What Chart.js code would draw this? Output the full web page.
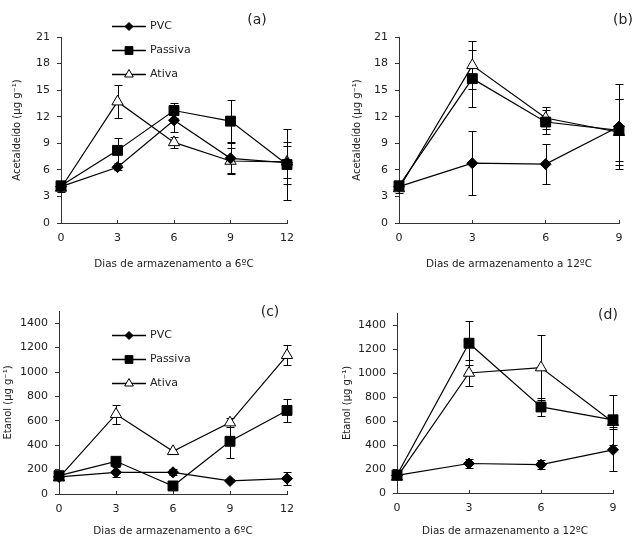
<!DOCTYPE html>
<html>
<head>
<meta charset="utf-8">
<script src="https://cdn.jsdelivr.net/npm/chart.js@4"></script>
<style>
  body { margin: 0; background: #fff; }
  #wrap { position: relative; width: 635px; height: 544px; }
  canvas { position: absolute; }
</style>
</head>
<body>
<div id="wrap">
  <canvas id="ca" width="318" height="272" style="left:0;top:0"></canvas>
  <canvas id="cb" width="317" height="272" style="left:318px;top:0"></canvas>
  <canvas id="cc" width="318" height="272" style="left:0;top:272px"></canvas>
  <canvas id="cd" width="317" height="272" style="left:318px;top:272px"></canvas>
</div>
<script>
// days of storage
const dias6 = [0, 3, 6, 9, 12];
const dias12 = [0, 3, 6, 9];
const yTicksAcet = [0, 3, 6, 9, 12, 15, 18, 21];
const yTicksEtanol = [0, 200, 400, 600, 800, 1000, 1200, 1400];

// (a) acetaldeido, 6 C
const acet6Pvc = [4.1, 6.3, 11.6, 7.3, 6.8];
const acet6PvcErr = [0.4, 0.3, 1.3, 1.7, 2.4];
const acet6Passiva = [4.2, 8.2, 12.7, 11.5, 6.6];
const acet6PassivaErr = [0.5, 1.4, 0.8, 2.4, 4.0];
const acet6Ativa = [3.95, 13.7, 9.1, 7.0, 6.9];
const acet6AtivaErr = [0.5, 1.9, 0.6, 1.5, 1.8];

// (b) acetaldeido, 12 C
const acet12Pvc = [4.1, 6.75, 6.65, 10.9];
const acet12PvcErr = [0.4, 3.6, 2.3, 4.8];
const acet12Passiva = [4.2, 16.3, 11.4, 10.45];
const acet12PassivaErr = [0.5, 3.2, 1.4, 3.5];
const acet12Ativa = [3.9, 17.8, 11.85, 10.25];
const acet12AtivaErr = [0.5, 2.7, 1.2, 3.7];

// (c) etanol, 6 C
const etanol6Pvc = [140, 178, 178, 107, 126];
const etanol6PvcErr = [20, 42, 25, 12, 52];
const etanol6Passiva = [150, 268, 66, 432, 685];
const etanol6PassivaErr = [20, 36, 20, 137, 97];
const etanol6Ativa = [134, 654, 350, 585, 1137];
const etanol6AtivaErr = [15, 78, 22, 35, 82];

// (d) etanol, 12 C
const etanol12Pvc = [147, 246, 236, 360];
const etanol12PvcErr = [20, 40, 40, 175];
const etanol12Passiva = [150, 1248, 717, 610];
const etanol12PassivaErr = [25, 185, 75, 210];
const etanol12Ativa = [133, 1000, 1045, 590];
const etanol12AtivaErr = [20, 108, 270, 40];

const txt = '#222';
const axisCol = '#333';
const fam = '"DejaVu Sans", Verdana, sans-serif';

const errorBars = {
  id: 'errorBars',
  beforeDatasetsDraw(chart) {
    const { ctx, scales: { x, y } } = chart;
    ctx.save();
    ctx.strokeStyle = '#000';
    ctx.lineWidth = 1;
    chart.data.datasets.forEach(ds => {
      ds.data.forEach((p, i) => {
        const e = ds.err[i];
        if (!e) return;
        const px = Math.round(x.getPixelForValue(p.x)) + 0.5;
        const y1 = Math.round(y.getPixelForValue(p.y + e)) + 0.5;
        const y2 = Math.round(y.getPixelForValue(p.y - e)) + 0.5;
        ctx.beginPath();
        ctx.moveTo(px, y1); ctx.lineTo(px, y2);
        ctx.moveTo(px - 4, y1); ctx.lineTo(px + 4, y1);
        ctx.moveTo(px - 4, y2); ctx.lineTo(px + 4, y2);
        ctx.stroke();
      });
    });
    ctx.restore();
  }
};

// panel letter + the small legend inside (a) and (c)
const legendRadius = { rectRot: 4, rect: 5.5, triangle: 5 };
const extras = {
  id: 'extras',
  afterDraw(chart, args, opts) {
    const ctx = chart.ctx;
    ctx.save();
    ctx.fillStyle = txt;
    ctx.font = '14px ' + fam;
    ctx.textAlign = 'center';
    ctx.textBaseline = 'middle';
    ctx.fillText(opts.letter, opts.lx, opts.ly);
    if (opts.legendY) {
      chart.data.datasets.forEach((ds, i) => {
        const yy = opts.legendY + i * 24 + 0.5;
        ctx.strokeStyle = '#000';
        ctx.lineWidth = 1.3;
        ctx.beginPath();
        ctx.moveTo(112, yy); ctx.lineTo(146, yy);
        ctx.stroke();
        ctx.lineWidth = 1;
        ctx.fillStyle = ds.pointBackgroundColor;
        Chart.helpers.drawPoint(ctx, {
          pointStyle: ds.pointStyle, radius: legendRadius[ds.pointStyle], rotation: 0, borderWidth: 1
        }, 129, yy);
        ctx.fillStyle = txt;
        ctx.font = '11px ' + fam;
        ctx.textAlign = 'left';
        ctx.fillText(ds.label, 150, yy);
      });
    }
    ctx.restore();
  }
};

function series(label, xs, ys, err, style, radius, fill) {
  return {
    label: label,
    data: xs.map((d, i) => ({ x: d, y: ys[i] })),
    err: err,
    showLine: true,
    borderColor: '#000',
    borderWidth: 1.2,
    pointStyle: style,
    pointRadius: radius,
    pointBackgroundColor: fill,
    pointBorderColor: '#000',
    pointBorderWidth: 1,
    clip: false
  };
}

function panel(id, o) {
  new Chart(document.getElementById(id), {
    type: 'scatter',
    data: {
      datasets: [
        series('PVC', o.xs, o.pvc, o.pvcErr, 'rectRot', 5.5, '#000'),
        series('Passiva', o.xs, o.passiva, o.passivaErr, 'rect', 7, '#000'),
        series('Ativa', o.xs, o.ativa, o.ativaErr, 'triangle', 6.5, '#fff')
      ]
    },
    options: {
      responsive: false,
      animation: false,
      layout: { padding: { left: 0, top: o.top, right: o.right, bottom: 0 } },
      plugins: {
        legend: { display: false },
        tooltip: { enabled: false },
        extras: { letter: o.letter, lx: o.lx, ly: o.ly, legendY: o.legendY }
      },
      scales: {
        x: {
          type: 'linear',
          min: 0,
          max: o.xs[o.xs.length - 1],
          afterBuildTicks: s => { s.ticks = o.xs.map(v => ({ value: v })); },
          afterFit: s => { s.height = o.xh; },
          // x tick marks point up into the plot
          grid: { drawOnChartArea: false, tickLength: -3, color: axisCol },
          border: { color: axisCol },
          ticks: { padding: 12, color: txt, font: { family: fam, size: 11 }, callback: v => String(v) },
          title: {
            display: true, text: o.xTitle, color: txt,
            font: { family: fam, size: 10.4 }, padding: { top: 0, bottom: o.xtp }
          }
        },
        y: {
          min: 0,
          max: o.ymax,
          afterBuildTicks: s => { s.ticks = o.yTicks.map(v => ({ value: v })); },
          afterFit: s => { s.width = o.yw; },
          grid: { drawOnChartArea: false, tickLength: 4, color: axisCol },
          border: { color: axisCol },
          ticks: { padding: 7, color: txt, font: { family: fam, size: 11 }, callback: v => String(v) },
          title: {
            display: true, text: o.yTitle, color: txt,
            font: { family: fam, size: 10 }, padding: { top: o.ytp, bottom: 0 }
          }
        }
      }
    },
    plugins: [errorBars, extras]
  });
}

panel('ca', {
  xs: dias6, pvc: acet6Pvc, pvcErr: acet6PvcErr, passiva: acet6Passiva, passivaErr: acet6PassivaErr,
  ativa: acet6Ativa, ativaErr: acet6AtivaErr, ymax: 21, yTicks: yTicksAcet,
  top: 37, right: 31, xh: 49, yw: 61, ytp: 11, xtp: 1,
  xTitle: 'Dias de armazenamento a 6ºC', yTitle: 'Acetaldeído (µg g⁻¹)',
  letter: '(a)', lx: 257, ly: 20, legendY: 26
});
panel('cb', {
  xs: dias12, pvc: acet12Pvc, pvcErr: acet12PvcErr, passiva: acet12Passiva, passivaErr: acet12PassivaErr,
  ativa: acet12Ativa, ativaErr: acet12AtivaErr, ymax: 21, yTicks: yTicksAcet,
  top: 37, right: 16, xh: 49, yw: 81, ytp: 33, xtp: 1,
  xTitle: 'Dias de armazenamento a 12ºC', yTitle: 'Acetaldeído (µg g⁻¹)',
  letter: '(b)', lx: 305, ly: 20
});
panel('cc', {
  xs: dias6, pvc: etanol6Pvc, pvcErr: etanol6PvcErr, passiva: etanol6Passiva, passivaErr: etanol6PassivaErr,
  ativa: etanol6Ativa, ativaErr: etanol6AtivaErr, ymax: 1500, yTicks: yTicksEtanol,
  top: 39, right: 31, xh: 50, yw: 59, ytp: 2, xtp: 6,
  xTitle: 'Dias de armazenamento a 6ºC', yTitle: 'Etanol (µg g⁻¹)',
  letter: '(c)', lx: 270, ly: 40, legendY: 63
});
panel('cd', {
  xs: dias12, pvc: etanol12Pvc, pvcErr: etanol12PvcErr, passiva: etanol12Passiva, passivaErr: etanol12PassivaErr,
  ativa: etanol12Ativa, ativaErr: etanol12AtivaErr, ymax: 1500, yTicks: yTicksEtanol,
  top: 41, right: 22, xh: 51, yw: 79, ytp: 23, xtp: 6,
  xTitle: 'Dias de armazenamento a 12ºC', yTitle: 'Etanol (µg g⁻¹)',
  letter: '(d)', lx: 290, ly: 43
});
</script>
</body>
</html>
